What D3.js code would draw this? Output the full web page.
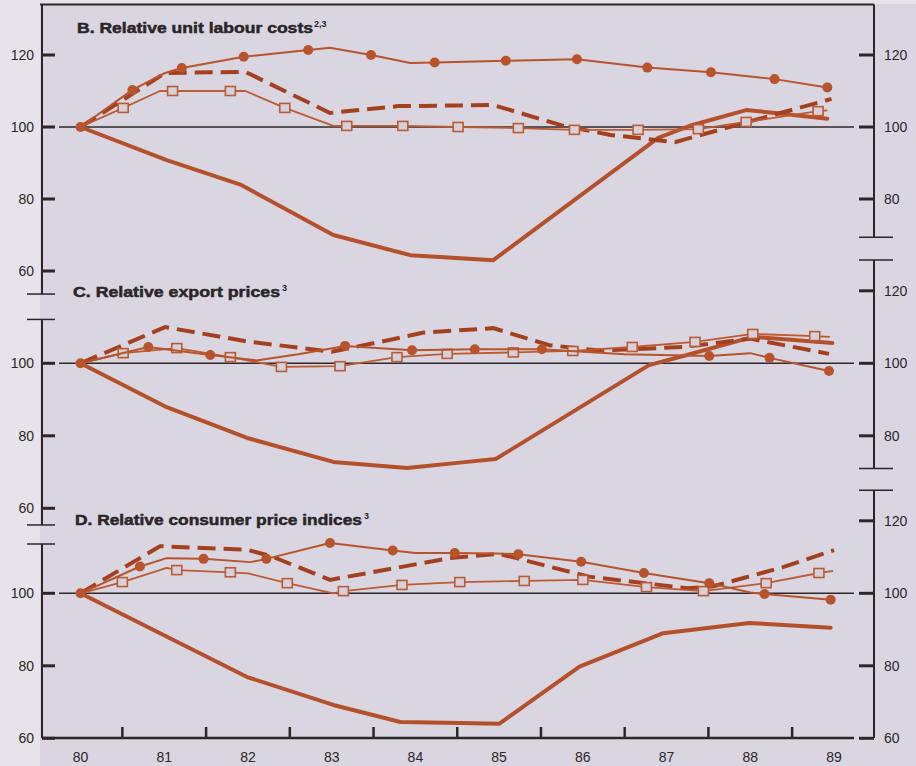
<!DOCTYPE html>
<html><head><meta charset="utf-8">
<script src="https://cdn.jsdelivr.net/npm/d3@7/dist/d3.min.js"></script>
<style>body{margin:0;background:#d9d6e1;} svg{display:block}</style>
</head><body><svg id="c" width="916" height="766"></svg>
<script>
// ---------- data ----------
const yearLabels = [80,81,82,83,84,85,86,87,88,89];
const halfYearTicks = [80.5,81.5,82.5,83.5,84.5,85.5,86.5,87.5,88.5];

const titles = ["B.  Relative unit labour costs", "C.  Relative export prices", "D.  Relative consumer price indices"];
const titleNotes = ["2,3", "3", "3"];

const leftTicksB = [120,100,80,60];
const rightTicksB = [120,100,80];
const leftTicksC = [100,80,60];
const rightTicksC = [120,100,80];
const leftTicksD = [100,80,60];
const rightTicksD = [120,100,80,60];

// [year, value] for solid thick and dashed; [year, value, marker] for marker lines
const thickB = [[80,100],[81.03,90.8],[81.91,84],[83.02,70],[83.94,64.4],[84.93,63],[86.9,97],[87.3,100.5],[87.95,104.7],[88.3,103.9],[88.92,102.3]];
const circleB = [[80,100,1],[80.62,110.3,1],[81.01,115,0],[81.21,116.4,1],[81.95,119.5,1],[82.72,121.4,1],[82.98,122,0],[83.47,120,1],[83.94,117.8,0],[84.23,117.9,1],[85.08,118.4,1],[85.93,118.8,1],[86.77,116.5,1],[87.53,115.2,1],[88.29,113.3,1],[88.92,111,1]];
const squareB = [[80,100,0],[80.51,105.3,1],[80.95,110,0],[81.1,110,1],[81.79,110,1],[81.97,110,0],[82.44,105.3,1],[83.02,100.3,0],[83.18,100.3,1],[83.85,100.3,1],[84.51,100,1],[85.23,99.7,1],[85.9,99.2,1],[86.66,99.2,1],[87.38,99.4,1],[87.95,101.4,1],[88.81,104.4,1],[88.92,104.6,0]];
const dashedB = [[80,100],[81.01,115],[81.97,115.3],[82.98,103.9],[83.8,105.8],[84.93,106.1],[85.77,100.3],[86.33,97.8],[87.1,95.8],[88.97,107.8]];

const thickC = [[80,100],[81.03,87.9],[81.99,79.4],[83.02,72.8],[83.9,71.1],[84.53,72.6],[84.96,73.6],[86.79,99.5],[87.2,102],[88.03,107.3],[88.98,105.6]];
const circleC = [[80,100,1],[80.81,104.5,1],[81.55,102.3,1],[82.1,100.8,0],[82.6,102.5,0],[83.16,104.8,1],[83.96,103.6,1],[84.71,103.9,1],[85.51,103.9,1],[86.5,102.5,0],[87.51,102,1],[88.0,102.8,0],[88.23,101.5,1],[88.94,97.9,1]];
const squareC = [[80,100,0],[80.51,102.8,1],[81.15,104.2,1],[81.79,101.7,1],[82.4,99,1],[83.1,99.2,1],[83.78,101.7,1],[84.38,102.6,1],[85.17,103,1],[85.88,103.4,1],[86.59,104.5,1],[87.34,105.9,1],[88.03,108.1,1],[88.77,107.5,1],[88.95,107.3,0]];
const dashedC = [[80,100],[81.01,110],[82.0,106],[83.0,103.2],[83.6,106],[84.1,108.5],[84.93,109.7],[85.6,105],[86.2,103.5],[87.2,104.5],[88.0,106.8],[88.94,102.6]];

const thickD = [[80,100],[80.95,89],[81.99,76.9],[83.02,69.2],[83.82,64.5],[84.53,64.2],[85,64],[85.96,79.8],[86.96,89],[87.99,91.8],[88.96,90.5]];
const circleD = [[80,100,1],[80.71,107.4,1],[81.03,109.7,0],[81.47,109.5,1],[82.03,108.6,0],[82.22,109.5,1],[82.98,113.9,1],[83.73,111.8,1],[84.0,111.1,0],[84.47,111.1,1],[84.96,111,0],[85.23,110.8,1],[85.98,108.7,1],[86.73,105.6,1],[87.51,102.8,1],[88.0,100.2,0],[88.17,99.8,1],[88.96,98.2,1]];
const squareD = [[80,100,0],[80.5,103.1,1],[81.03,107,0],[81.15,106.4,1],[81.79,105.8,1],[82.0,105.5,0],[82.47,102.8,1],[83.02,100,0],[83.14,100.6,1],[83.84,102.3,1],[84.53,103.1,1],[85.3,103.4,1],[86.0,103.7,1],[86.76,101.7,1],[87.44,100.6,1],[88.19,102.8,1],[88.82,105.6,1],[88.99,106.2,0]];
const dashedD = [[80,100],[80.95,113],[81.99,112],[82.27,110.3],[82.98,103.7],[84.41,109.7],[85,110.9],[86.07,104.6],[87.25,101.4],[87.55,101.9],[88.39,107.2],[89,111.9]];

// ---------- layout ----------
const W = 916, H = 766;
const ink = "#2c2628";
const cThick = "#b5512a", cDash = "#a5401e", cCirc = "#b7542c", cSq = "#bc5a33";
const xLeft = 42, xRight = 874, yTop = 4.5, yBottom = 738;

const panels = [
  {y60:271, y120:55, leftExt:[53.6,134], rightExt:[69.4,134], lt:leftTicksB, rt:rightTicksB,
   title:titles[0], note:titleNotes[0], tx:77, ty:33, tw:236, nx:314,
   thick:thickB, circ:circleB, sq:squareB, dash:dashedB},
  {y60:508.3, y120:290.8, leftExt:[55.4,112.1], rightExt:[71.0,128.5], lt:leftTicksC, rt:rightTicksC,
   title:titles[1], note:titleNotes[1], tx:73, ty:297, tw:207, nx:282,
   thick:thickC, circ:circleC, sq:squareC, dash:dashedC},
  {y60:738.3, y120:520.8, leftExt:[60,113.6], rightExt:[60,128.4], lt:leftTicksD, rt:rightTicksD,
   title:titles[2], note:titleNotes[2], tx:75, ty:525, tw:287, nx:364,
   thick:thickD, circ:circleD, sq:squareD, dash:dashedD}
];

const svg = d3.select("#c");
svg.append("rect").attr("width",W).attr("height",H).attr("fill","#d9d6e1");
svg.append("rect").attr("width",40).attr("height",H).attr("fill","#e6e4ea");
svg.append("rect").attr("width",W).attr("height",4).attr("fill","#e6e4ea");

const x = d3.scaleLinear().domain([80,89]).range([80.5,834]);

// top frame line
svg.append("line").attr("x1",40).attr("x2",xRight).attr("y1",yTop).attr("y2",yTop)
  .attr("stroke",ink).attr("stroke-width",2);

const lineGen = (y) => d3.line().x(d=>x(d[0])).y(d=>y(d[1])).curve(d3.curveLinear);

panels.forEach((p,i) => {
  const y = d3.scaleLinear().domain([60,120]).range([p.y60,p.y120]);
  const g = svg.append("g");

  const lTop = i===0 ? yTop : y(p.leftExt[1]);
  const lBot = i===2 ? yBottom : y(p.leftExt[0]);
  g.append("line").attr("x1",xLeft).attr("x2",xLeft).attr("y1",lTop).attr("y2",lBot)
    .attr("stroke",ink).attr("stroke-width",2);
  if (i>0) g.append("line").attr("x1",27).attr("x2",55).attr("y1",lTop).attr("y2",lTop).attr("stroke",ink).attr("stroke-width",1.5);
  if (i<2) g.append("line").attr("x1",27).attr("x2",55).attr("y1",lBot).attr("y2",lBot).attr("stroke",ink).attr("stroke-width",1.5);

  const rTop = i===0 ? yTop : y(p.rightExt[1]);
  const rBot = i===2 ? yBottom : y(p.rightExt[0]);
  g.append("line").attr("x1",xRight).attr("x2",xRight).attr("y1",rTop).attr("y2",rBot)
    .attr("stroke",ink).attr("stroke-width",2);
  if (i>0) g.append("line").attr("x1",859).attr("x2",893).attr("y1",rTop).attr("y2",rTop).attr("stroke",ink).attr("stroke-width",1.5);
  if (i<2) g.append("line").attr("x1",859).attr("x2",893).attr("y1",rBot).attr("y2",rBot).attr("stroke",ink).attr("stroke-width",1.5);

  p.lt.forEach(v => {
    g.append("line").attr("x1",xLeft).attr("x2",55).attr("y1",y(v)).attr("y2",y(v))
      .attr("stroke",ink).attr("stroke-width",3);
    g.append("text").attr("x",34).attr("y",y(v)).attr("dy","0.36em").attr("text-anchor","end")
      .attr("font-family","Liberation Sans, Arial, sans-serif").attr("font-size",14).attr("fill",ink).text(v);
  });
  p.rt.forEach(v => {
    g.append("line").attr("x1",859).attr("x2",xRight).attr("y1",y(v)).attr("y2",y(v))
      .attr("stroke",ink).attr("stroke-width",3);
    g.append("text").attr("x",884).attr("y",y(v)).attr("dy","0.36em").attr("text-anchor","start")
      .attr("font-family","Liberation Sans, Arial, sans-serif").attr("font-size",14).attr("fill",ink).text(v);
  });

  g.append("line").attr("x1",59).attr("x2",854).attr("y1",y(100)).attr("y2",y(100))
    .attr("stroke","#2f2729").attr("stroke-width",1.6);

  g.append("text").attr("x",p.tx).attr("y",p.ty)
    .attr("font-family","Liberation Sans, Arial, sans-serif").attr("font-weight","bold")
    .attr("font-size",15).attr("fill","#2a2527").attr("stroke","#2a2527").attr("stroke-width",0.5)
    .attr("textLength",p.tw).attr("lengthAdjust","spacingAndGlyphs").text(p.title);
  g.append("text").attr("x",p.nx).attr("y",p.ty-6)
    .attr("font-family","Liberation Sans, Arial, sans-serif").attr("font-weight","bold")
    .attr("font-size",9).attr("fill","#2a2527").text(p.note);

  const lg = lineGen(y);
  g.append("path").attr("d",lg(p.thick)).attr("fill","none").attr("stroke",cThick)
    .attr("stroke-width",4).attr("stroke-linejoin","round").attr("stroke-linecap","round");
  g.append("path").attr("d",lg(p.dash)).attr("fill","none").attr("stroke",cDash)
    .attr("stroke-width",4).attr("stroke-dasharray","18,8");
  g.append("path").attr("d",lg(p.sq)).attr("fill","none").attr("stroke",cSq)
    .attr("stroke-width",1.8).attr("stroke-linejoin","round");
  g.selectAll(null).data(p.sq.filter(d=>d[2])).join("rect")
    .attr("x",d=>x(d[0])-5).attr("y",d=>y(d[1])-4.5).attr("width",10).attr("height",9)
    .attr("fill","#d5d0da").attr("stroke",cSq).attr("stroke-width",1.6);
  g.append("path").attr("d",lg(p.circ)).attr("fill","none").attr("stroke",cCirc)
    .attr("stroke-width",2).attr("stroke-linejoin","round");
  g.selectAll(null).data(p.circ.filter(d=>d[2])).join("circle")
    .attr("cx",d=>x(d[0])).attr("cy",d=>y(d[1])).attr("r",5).attr("fill",cCirc);
});

svg.append("line").attr("x1",xLeft).attr("x2",854).attr("y1",yBottom).attr("y2",yBottom)
  .attr("stroke",ink).attr("stroke-width",2.5);
halfYearTicks.forEach(t => {
  svg.append("line").attr("x1",x(t)).attr("x2",x(t)).attr("y1",yBottom).attr("y2",yBottom-11)
    .attr("stroke",ink).attr("stroke-width",2.5);
});
yearLabels.forEach(t => {
  svg.append("text").attr("x",x(t)).attr("y",762).attr("text-anchor","middle")
    .attr("font-family","Liberation Sans, Arial, sans-serif").attr("font-size",14).attr("fill",ink).text(t);
});
</script></body></html>
